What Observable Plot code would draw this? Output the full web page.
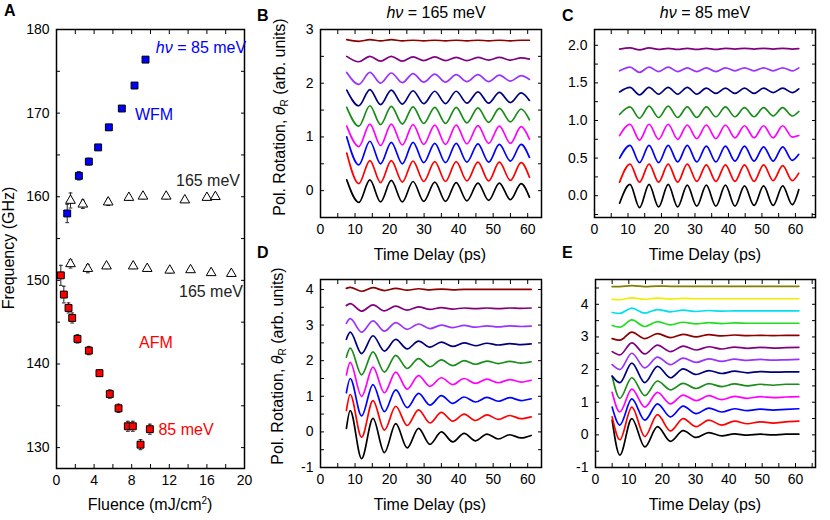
<!DOCTYPE html>
<html><head><meta charset="utf-8">
<script src="https://cdn.jsdelivr.net/npm/d3@7"></script>
<script src="https://cdn.jsdelivr.net/npm/@observablehq/plot@0.6"></script>
<style>
body{margin:0;background:#fff;}
#fig{position:relative;width:830px;height:520px;font-family:"Liberation Sans",Arial,sans-serif;color:#000;overflow:hidden;}
.lbl{position:absolute;white-space:nowrap;font-size:16px;line-height:1;transform:translate(-50%,-50%);}
.let{position:absolute;font-weight:bold;font-size:16px;line-height:1;}
.rot{position:absolute;white-space:nowrap;font-size:16px;line-height:1;transform:translate(-50%,-50%) rotate(-90deg);}
sub{font-size:10px;vertical-align:-3px;line-height:0;}
sup{font-size:10px;vertical-align:6px;line-height:0;}
</style></head><body><div id="fig"></div>
<script>
// ---------- Panel A data ----------
const wfmF   = [1.14, 2.38, 3.44, 4.43, 5.57, 6.95, 8.3, 9.47];
const wfmGHz = [158.0, 162.5, 164.2, 165.9, 168.3, 170.55, 173.3, 176.4];
const wfmErr = [1.1, 0.5, 0.4, 0.3, 0.3, 0.3, 0.3, 0.3];
const hiF    = [1.49, 2.8, 5.5, 7.7, 9.2, 11.67, 13.65, 16.0, 16.9];
const hiGHz  = [159.55, 159.1, 159.35, 159.9, 160.05, 160.05, 159.6, 159.9, 160.0];
const hiErr  = [0.9, 0.5, 0.4, 0.3, 0.3, 0.3, 0.3, 0.3, 0.3];
const loF    = [1.49, 3.33, 5.32, 8.16, 9.65, 12.05, 14.26, 16.45, 18.6];
const loGHz  = [151.97, 151.4, 151.7, 151.7, 151.4, 151.2, 151.25, 150.9, 150.8];
const loErr  = [0.5, 0.5, 0.3, 0.3, 0.3, 0.3, 0.3, 0.3, 0.3];
const afmF   = [0.46, 0.78, 1.28, 1.67, 2.23, 3.44, 4.57, 5.67, 6.6, 7.59, 8.12, 8.94, 9.93];
const afmGHz = [150.6, 148.3, 146.7, 145.5, 143.0, 141.6, 138.9, 136.4, 134.7, 132.55, 132.55, 130.35, 132.2];
const afmErr = [1.2, 1.0, 0.6, 0.6, 0.5, 0.5, 0.4, 0.5, 0.5, 0.6, 0.6, 0.6, 0.6];

// ---------- Trace colours ----------
const cBlack="#000000", cRed="#ff0000", cBlue="#0000ff", cMag="#ff00ff", cGreen="#1a8c1a",
      cNavy="#00007f", cViolet="#9933ff", cPurple="#800080", cDkRed="#8b0000",
      cLime="#22dd22", cCyan="#00e0f0", cYellow="#eeee00", cOlive="#808000";

// ---------- Panel B (165 meV) : extremum times and values ----------
const bTimes = [7.6, 11.1, 14.3, 17.4, 20.5, 23.7, 26.8, 29.9, 33.1, 36.2, 39.3, 42.4, 45.6, 48.7, 51.8, 55.0, 58.1, 60.5];
const bBlack  = [0.2, -0.22, 0.2, -0.21, 0.19, -0.21, 0.17, -0.2, 0.16, -0.2, 0.15, -0.19, 0.14, -0.18, 0.14, -0.17, 0.13, -0.12];
const bRed    = [0.7, 0.13, 0.56, 0.15, 0.56, 0.16, 0.55, 0.17, 0.54, 0.17, 0.54, 0.18, 0.53, 0.18, 0.53, 0.19, 0.52, 0.25];
const bBlue   = [1.0, 0.48, 0.92, 0.5, 0.9, 0.5, 0.9, 0.52, 0.88, 0.52, 0.88, 0.53, 0.87, 0.53, 0.86, 0.55, 0.86, 0.62];
const bMag    = [1.2, 0.82, 1.24, 0.84, 1.24, 0.85, 1.23, 0.86, 1.22, 0.86, 1.22, 0.87, 1.21, 0.88, 1.2, 0.88, 1.19, 0.96];
const bGreen  = [1.55, 1.2, 1.58, 1.23, 1.57, 1.24, 1.56, 1.25, 1.55, 1.25, 1.55, 1.26, 1.54, 1.27, 1.53, 1.28, 1.52, 1.32];
const bNavy   = [1.87, 1.58, 1.88, 1.6, 1.87, 1.61, 1.86, 1.62, 1.85, 1.62, 1.85, 1.63, 1.84, 1.63, 1.83, 1.64, 1.82, 1.68];
const bViolet = [2.2, 1.98, 2.2, 2.0, 2.19, 2.01, 2.18, 2.02, 2.17, 2.02, 2.16, 2.03, 2.16, 2.03, 2.15, 2.04, 2.14, 2.07];
const bPurple = [2.5, 2.4, 2.5, 2.41, 2.5, 2.41, 2.49, 2.42, 2.49, 2.42, 2.48, 2.42, 2.48, 2.43, 2.48, 2.43, 2.47, 2.45];
const bDkRed  = [2.81, 2.78, 2.81, 2.79, 2.81, 2.79, 2.8, 2.79, 2.8, 2.79, 2.8, 2.79, 2.8, 2.79, 2.8, 2.79, 2.8, 2.8];

// ---------- Panel C (85 meV) ----------
const cTimes = [7.5, 10.6, 13.45, 16.3, 19.15, 22.0, 24.85, 27.7, 30.55, 33.4, 36.25, 39.1, 41.95, 44.8, 47.65, 50.5, 53.35, 56.2, 59.05, 61];
const cBlackV  = [-0.1, 0.15, -0.16, 0.15, -0.15, 0.15, -0.15, 0.14, -0.14, 0.14, -0.14, 0.14, -0.14, 0.13, -0.13, 0.13, -0.13, 0.13, -0.12, 0.08];
const cRedV    = [0.18, 0.42, 0.18, 0.42, 0.18, 0.42, 0.18, 0.42, 0.19, 0.41, 0.19, 0.41, 0.19, 0.41, 0.19, 0.41, 0.2, 0.4, 0.2, 0.3];
const cBlueV   = [0.5, 0.67, 0.44, 0.67, 0.44, 0.67, 0.45, 0.67, 0.45, 0.66, 0.45, 0.66, 0.46, 0.66, 0.46, 0.65, 0.46, 0.65, 0.47, 0.55];
const cMagV    = [0.8, 0.95, 0.74, 0.95, 0.75, 0.95, 0.75, 0.94, 0.76, 0.94, 0.76, 0.94, 0.77, 0.93, 0.77, 0.93, 0.77, 0.93, 0.78, 0.8];
const cGreenV  = [1.08, 1.18, 1.03, 1.19, 1.04, 1.19, 1.04, 1.18, 1.04, 1.18, 1.05, 1.18, 1.05, 1.17, 1.05, 1.17, 1.06, 1.17, 1.06, 1.12];
const cNavyV   = [1.38, 1.44, 1.34, 1.44, 1.35, 1.44, 1.35, 1.44, 1.35, 1.43, 1.36, 1.43, 1.36, 1.43, 1.36, 1.43, 1.37, 1.43, 1.37, 1.42];
const cVioletV = [1.66, 1.71, 1.64, 1.71, 1.65, 1.71, 1.65, 1.7, 1.65, 1.7, 1.65, 1.7, 1.66, 1.7, 1.66, 1.7, 1.66, 1.7, 1.66, 1.7];
const cPurpleV = [1.95, 1.965, 1.94, 1.965, 1.945, 1.96, 1.945, 1.96, 1.945, 1.96, 1.945, 1.96, 1.95, 1.96, 1.95, 1.96, 1.95, 1.96, 1.95, 1.955];

// ---------- Panel D ----------
const dTimes = [7.5, 8.6, 11.9, 15.2, 18.5, 21.8, 25.1, 28.4, 31.7, 35.0, 38.3, 41.6, 44.9, 48.2, 51.5, 54.8, 58.1, 61];
const dBlack  = [0.1, 0.6, -0.75, 0.38, -0.58, 0.23, -0.45, 0.1, -0.35, 0.0, -0.28, -0.04, -0.25, -0.06, -0.2, -0.08, -0.17, -0.1];
const dRed    = [0.6, 1.05, -0.15, 0.88, 0.05, 0.72, 0.18, 0.62, 0.25, 0.55, 0.3, 0.5, 0.32, 0.48, 0.35, 0.46, 0.37, 0.42];
const dBlue   = [1.1, 1.5, 0.45, 1.33, 0.57, 1.18, 0.68, 1.08, 0.75, 1.02, 0.8, 0.98, 0.84, 0.97, 0.86, 0.96, 0.88, 0.93];
const dMag    = [1.6, 1.95, 1.0, 1.82, 1.1, 1.68, 1.2, 1.58, 1.28, 1.52, 1.33, 1.5, 1.36, 1.48, 1.38, 1.47, 1.4, 1.45];
const dGreen  = [2.1, 2.35, 1.6, 2.25, 1.68, 2.15, 1.78, 2.06, 1.83, 2.02, 1.86, 2.0, 1.9, 1.99, 1.92, 1.98, 1.93, 1.97];
const dNavy   = [2.6, 2.8, 2.2, 2.7, 2.27, 2.6, 2.33, 2.55, 2.38, 2.52, 2.4, 2.5, 2.42, 2.49, 2.44, 2.48, 2.45, 2.47];
const dViolet = [3.05, 3.18, 2.8, 3.12, 2.83, 3.07, 2.88, 3.03, 2.9, 3.0, 2.93, 2.99, 2.94, 2.98, 2.95, 2.98, 2.96, 2.97];
const dPurple = [3.55, 3.6, 3.39, 3.57, 3.4, 3.53, 3.42, 3.51, 3.44, 3.49, 3.45, 3.48, 3.46, 3.48, 3.46, 3.48, 3.47, 3.48];
const dDkRed  = [4.03, 4.06, 3.95, 4.05, 3.97, 4.03, 3.98, 4.02, 3.99, 4.01, 3.99, 4.0, 4.0, 4.0, 4.0, 4.0, 4.0, 4.0];

// ---------- Panel E ----------
const eTimes = [5, 7.3, 10.9, 14.8, 18.6, 22.5, 26.3, 30.2, 34.0, 37.9, 41.7, 45.6, 49.4, 53.3, 57.1, 61];
const eBlack  = [0.45, -0.62, 0.5, -0.37, 0.25, -0.2, 0.13, -0.08, 0.07, -0.03, 0.03, -0.01, 0.02, 0.0, 0.02, 0.02];
const eRed    = [0.55, -0.15, 0.85, -0.05, 0.62, 0.12, 0.5, 0.25, 0.45, 0.3, 0.42, 0.34, 0.4, 0.36, 0.4, 0.42];
const eBlue   = [0.85, 0.3, 1.1, 0.45, 0.95, 0.55, 0.88, 0.65, 0.82, 0.7, 0.8, 0.74, 0.79, 0.76, 0.78, 0.8];
const eMag    = [1.3, 0.7, 1.4, 0.85, 1.3, 0.95, 1.22, 1.05, 1.2, 1.08, 1.18, 1.12, 1.17, 1.14, 1.16, 1.17];
const eGreen  = [1.8, 1.12, 1.75, 1.2, 1.65, 1.38, 1.58, 1.42, 1.57, 1.48, 1.56, 1.5, 1.55, 1.52, 1.55, 1.55];
const eNavy   = [1.8, 1.6, 2.2, 1.6, 2.1, 1.75, 2.02, 1.85, 1.97, 1.88, 1.95, 1.9, 1.94, 1.92, 1.93, 1.93];
const eViolet = [2.15, 2.0, 2.5, 2.05, 2.38, 2.15, 2.35, 2.22, 2.33, 2.25, 2.32, 2.28, 2.31, 2.29, 2.3, 2.31];
const ePurple = [2.55, 2.45, 2.82, 2.48, 2.75, 2.55, 2.72, 2.6, 2.7, 2.63, 2.69, 2.65, 2.68, 2.66, 2.67, 2.68];
const eDkRed  = [2.95, 2.9, 3.15, 2.95, 3.1, 2.98, 3.08, 3.0, 3.07, 3.03, 3.06, 3.04, 3.05, 3.04, 3.05, 3.05];
const eLime   = [3.35, 3.3, 3.52, 3.32, 3.47, 3.37, 3.45, 3.4, 3.44, 3.41, 3.43, 3.42, 3.42, 3.42, 3.42, 3.42];
const eCyan   = [3.75, 3.72, 3.88, 3.73, 3.84, 3.77, 3.82, 3.78, 3.81, 3.79, 3.8, 3.8, 3.8, 3.8, 3.8, 3.8];
const eYellow = [4.15, 4.14, 4.2, 4.15, 4.19, 4.16, 4.18, 4.17, 4.17, 4.17, 4.17, 4.17, 4.17, 4.17, 4.17, 4.17];
const eOlive  = [4.54, 4.54, 4.57, 4.54, 4.56, 4.55, 4.55, 4.55, 4.55, 4.55, 4.55, 4.55, 4.55, 4.55, 4.55, 4.55];

// ---------- helpers ----------
const fig = document.getElementById("fig");
const FONT = "Liberation Sans, Arial, sans-serif";
function place(el, left, top){ el.style.position="absolute"; el.style.left=left+"px"; el.style.top=top+"px"; fig.appendChild(el); }
function html(cls, x, y, s, color){ const d=document.createElement("div"); d.className=cls; d.innerHTML=s; d.style.left=x+"px"; d.style.top=y+"px"; if(color) d.style.color=color; fig.appendChild(d); }
function rng(a,b,s){ const r=[]; for(let v=a; v<=b+1e-9; v+=s) r.push(+v.toFixed(6)); return r; }

function panel(o){
  const T = 4;
  const svg = Plot.plot({
    width:o.w, height:o.h, marginLeft:o.ml, marginRight:o.mr, marginTop:o.mt, marginBottom:o.mb,
    x:{domain:o.xd}, y:{domain:o.yd},
    style:{fontFamily:FONT, fontSize:"14px", background:"transparent", color:"black", overflow:"visible"},
    marks:[
      ...o.marks,
      Plot.frame({stroke:"black", strokeWidth:1.5}),
      Plot.axisX({anchor:"bottom", ticks:o.xt, tickSize:-T, tickFormat:()=>"", label:null}),
      Plot.axisX({anchor:"top", ticks:o.xt, tickSize:-T, tickFormat:()=>"", label:null}),
      Plot.axisY({anchor:"left", ticks:o.yt, tickSize:-T, tickFormat:()=>"", label:null}),
      Plot.axisY({anchor:"right", ticks:o.yt, tickSize:-T, tickFormat:()=>"", label:null}),
      Plot.axisX({anchor:"bottom", ticks:o.xl, tickSize:0, tickPadding:7, label:null, tickFormat:d=>String(d)}),
      Plot.axisY({anchor:"left", ticks:o.yl, tickSize:0, tickPadding:7, label:null, tickFormat:o.yf || (d=>String(d))})
    ]
  });
  place(svg, o.left, o.top);
}

function traceMarks(times, list){
  return list.map(([vals, color]) =>
    Plot.line(times.map((t,i)=>({t, y:vals[i]})), {x:"t", y:"y", stroke:color, strokeWidth:1.7, curve:"monotone-x"}));
}

function pts(F, G, E){ return F.map((f,i)=>({f, g:G[i], e:E[i]})); }
function errMarks(data){
  return [
    Plot.ruleX(data, {x:"f", y1:d=>d.g-d.e, y2:d=>d.g+d.e, stroke:"#222", strokeWidth:1}),
    Plot.link(data, {x1:d=>d.f-0.2, x2:d=>d.f+0.2, y1:d=>d.g+d.e, y2:d=>d.g+d.e, stroke:"#222", strokeWidth:1}),
    Plot.link(data, {x1:d=>d.f-0.2, x2:d=>d.f+0.2, y1:d=>d.g-d.e, y2:d=>d.g-d.e, stroke:"#222", strokeWidth:1})
  ];
}

// ---------- Panel A ----------
const wfm = pts(wfmF, wfmGHz, wfmErr), hi = pts(hiF, hiGHz, hiErr), lo = pts(loF, loGHz, loErr), afm = pts(afmF, afmGHz, afmErr);
panel({left:0, top:0, w:250, h:520, ml:56, mr:6, mt:29, mb:52,
  xd:[0,20], yd:[127.5,180], xt:rng(0,20,2), xl:rng(0,20,4), yt:rng(130,180,5), yl:rng(130,180,10),
  marks:[
    ...errMarks(hi), ...errMarks(lo), ...errMarks(wfm), ...errMarks(afm),
    Plot.dot(hi, {x:"f", y:"g", symbol:"triangle", r:3.6, fill:"white", stroke:"black", strokeWidth:1}),
    Plot.dot(lo, {x:"f", y:"g", symbol:"triangle", r:3.6, fill:"white", stroke:"black", strokeWidth:1}),
    Plot.dot(wfm, {x:"f", y:"g", symbol:"square", r:3.9, fill:"#0000ff", stroke:"black", strokeWidth:1}),
    Plot.dot(afm, {x:"f", y:"g", symbol:"square", r:3.9, fill:"#ff0000", stroke:"black", strokeWidth:1})
  ]});

// ---------- Panel B ----------
panel({left:250, top:0, w:300, h:260, ml:70, mr:9, mt:29, mb:43,
  xd:[0,64], yd:[-0.5,3], xt:rng(0,60,5), xl:rng(0,60,10), yt:rng(-0.5,3,0.5), yl:rng(0,3,1),
  marks: traceMarks(bTimes, [[bBlack,cBlack],[bRed,cRed],[bBlue,cBlue],[bMag,cMag],[bGreen,cGreen],[bNavy,cNavy],[bViolet,cViolet],[bPurple,cPurple],[bDkRed,cDkRed]])});

// ---------- Panel C ----------
panel({left:540, top:0, w:290, h:260, ml:54, mr:15, mt:29, mb:43,
  xd:[0,66], yd:[-0.29,2.21], xt:rng(0,65,5), xl:rng(0,60,10), yt:rng(-0.25,2.0,0.25), yl:rng(0,2,0.5), yf:d=>d.toFixed(1),
  marks: traceMarks(cTimes, [[cBlackV,cBlack],[cRedV,cRed],[cBlueV,cBlue],[cMagV,cMag],[cGreenV,cGreen],[cNavyV,cNavy],[cVioletV,cViolet],[cPurpleV,cPurple]])});

// ---------- Panel D ----------
panel({left:250, top:250, w:300, h:270, ml:70, mr:9, mt:29, mb:53,
  xd:[0,64], yd:[-1,4.28], xt:rng(0,60,5), xl:rng(0,60,10), yt:rng(-1,4,0.5), yl:rng(-1,4,1),
  marks: traceMarks(dTimes, [[dBlack,cBlack],[dRed,cRed],[dBlue,cBlue],[dMag,cMag],[dGreen,cGreen],[dNavy,cNavy],[dViolet,cViolet],[dPurple,cPurple],[dDkRed,cDkRed]])});

// ---------- Panel E ----------
panel({left:540, top:250, w:290, h:270, ml:55, mr:15, mt:29, mb:53,
  xd:[0,66], yd:[-1,4.76], xt:rng(0,65,5), xl:rng(0,60,10), yt:rng(-1,4.5,0.5), yl:rng(-1,4,1),
  marks: traceMarks(eTimes, [[eBlack,cBlack],[eRed,cRed],[eBlue,cBlue],[eMag,cMag],[eGreen,cGreen],[eNavy,cNavy],[eViolet,cViolet],[ePurple,cPurple],[eDkRed,cDkRed],[eLime,cLime],[eCyan,cCyan],[eYellow,cYellow],[eOlive,cOlive]])});

// ---------- Text ----------
html("let", 4, 3, "A");
html("let", 257, 8, "B");
html("let", 562, 8, "C");
html("let", 257, 245, "D");
html("let", 562, 245, "E");
html("lbl", 436, 13, "<i>h&nu;</i> = 165 meV");
html("lbl", 705, 13, "<i>h&nu;</i> = 85 meV");
html("rot", 9, 248, "Frequency (GHz)");
html("lbl", 150, 505, "Fluence (mJ/cm<sup>2</sup>)");
html("rot", 280, 117, "Pol. Rotation, <i>&theta;</i><sub>R</sub> (arb. units)");
html("rot", 278, 366, "Pol. Rotation, <i>&theta;</i><sub>R</sub> (arb. units)");
html("lbl", 430, 255, "Time Delay (ps)");
html("lbl", 705, 255, "Time Delay (ps)");
html("lbl", 430, 505, "Time Delay (ps)");
html("lbl", 705, 505, "Time Delay (ps)");
html("lbl", 201, 48, "<i>h&nu;</i> = 85 meV", "#0000ff");
html("lbl", 154, 115, "WFM", "#0000ff");
html("lbl", 208, 181, "165 meV", "#222");
html("lbl", 211, 292, "165 meV", "#222");
html("lbl", 156, 343, "AFM", "#ff0000");
html("lbl", 186, 430, "85 meV", "#ff0000");
</script></body></html>
